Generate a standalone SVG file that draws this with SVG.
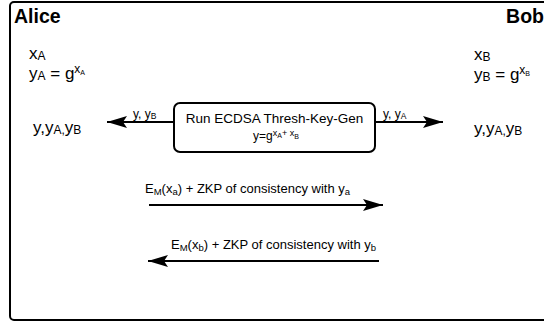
<svg xmlns="http://www.w3.org/2000/svg" width="544" height="322" viewBox="0 0 544 322">
<defs>
<style>
text{font-family:"Liberation Sans",Arial,sans-serif;fill:#000}
.t17{font-size:17px}
.t13{font-size:13.5px}
.lb{font-size:12px}
.msg{font-size:13px}
.b{font-weight:bold;font-size:19.5px}
.ln{stroke:#000;stroke-width:2;fill:none}
</style>
<marker id="ah" viewBox="0 0 20 12" refX="20" refY="6" markerWidth="20" markerHeight="12" markerUnits="userSpaceOnUse" orient="auto">
<path d="M0,0 L20,6 L0,12 L4,6 Z" fill="#000"/>
</marker>
</defs>
<g id="frame">
<rect x="10" y="2" width="545" height="318" rx="4" ry="4" fill="#fff" stroke="#000" stroke-width="2"/>
<text class="b" x="14" y="23">Alice</text>
<text class="b" x="544" y="23" text-anchor="end">Bob</text>
</g>
<g id="alice">
<text class="t17" x="29" y="59">x<tspan font-size="12" dy="1">A</tspan></text>
<text class="t17" x="29" y="79">y<tspan font-size="12" dy="1">A</tspan><tspan dy="-1"> = g</tspan><tspan font-size="12" dy="-6">x</tspan><tspan font-size="7" dy="2">A</tspan></text>
<text class="t17" x="33" y="133">y,y<tspan font-size="12" dy="1">A,</tspan><tspan dy="-1">y</tspan><tspan font-size="12" dy="1">B</tspan></text>
</g>
<g id="bob">
<text class="t17" x="474" y="60">x<tspan font-size="12" dy="1">B</tspan></text>
<text class="t17" x="474" y="80">y<tspan font-size="12" dy="1">B</tspan><tspan dy="-1"> = g</tspan><tspan font-size="12" dy="-6">x</tspan><tspan font-size="7" dy="2">B</tspan></text>
<text class="t17" x="474" y="134">y,y<tspan font-size="12" dy="1">A,</tspan><tspan dy="-1">y</tspan><tspan font-size="12" dy="1">B</tspan></text>
</g>
<g id="keygen">
<rect x="174" y="103" width="201" height="49" rx="6" ry="6" fill="#fff" stroke="#000" stroke-width="2"/>
<text class="t13" x="274.5" y="123" text-anchor="middle">Run ECDSA Thresh-Key-Gen</text>
<text x="276" y="140" text-anchor="middle" font-size="12">y=g<tspan font-size="9" dy="-4">x</tspan><tspan font-size="7" dy="2">A</tspan><tspan font-size="9" dy="-2">+ x</tspan><tspan font-size="7" dy="3">B</tspan></text>
</g>
<g id="connectors">
<path class="ln" d="M174,122 L107,122" marker-end="url(#ah)"/>
<path class="ln" d="M375,122 L443,122" marker-end="url(#ah)"/>
<path class="ln" d="M149,205 L383,205" marker-end="url(#ah)"/>
<path class="ln" d="M379,261 L148,261" marker-end="url(#ah)"/>
<text class="lb" x="133" y="118">y, y<tspan font-size="8.5" dy="1">B</tspan></text>
<text class="lb" x="383" y="118">y, y<tspan font-size="8.5" dy="1">A</tspan></text>
<text class="msg" x="145" y="193">E<tspan font-size="9.5" dy="2">M</tspan><tspan dy="-2">(x</tspan><tspan font-size="9.5" dy="2">a</tspan><tspan dy="-2">) + ZKP of consistency with y</tspan><tspan font-size="9.5" dy="2">a</tspan></text>
<text class="msg" x="171" y="249">E<tspan font-size="9.5" dy="2">M</tspan><tspan dy="-2">(x</tspan><tspan font-size="9.5" dy="2">b</tspan><tspan dy="-2">) + ZKP of consistency with y</tspan><tspan font-size="9.5" dy="2">b</tspan></text>
</g>
</svg>
